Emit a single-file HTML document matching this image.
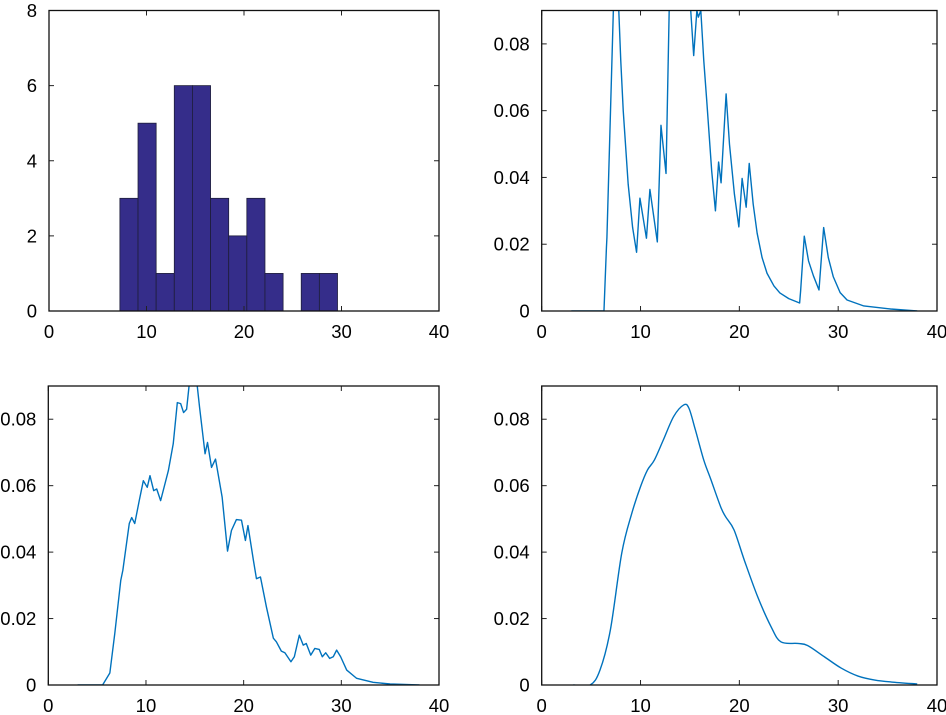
<!DOCTYPE html>
<html><head><meta charset="utf-8"><style>
html,body{margin:0;padding:0;background:#fff;}
svg{display:block;}
text{font-family:"Liberation Sans",Arial,sans-serif;font-size:18.5px;fill:#000;}
</style></head><body>
<svg id="fig" width="946" height="715" viewBox="0 0 946 715" xmlns="http://www.w3.org/2000/svg"></svg>
<script>
// Histogram data
const histEdgesStart = 7.27;
const histBinWidth = 1.86;
const histCounts = [3,5,1,6,6,3,2,3,1,0,1,1];

// Panel 2: narrow-bandwidth density
const kde1X = [3,6.3,6.55,6.6,7.25,7.5,7.8,8.0,8.25,8.75,9.2,9.6,9.94,10.6,10.95,11.7,12.07,12.58,12.9,13.5,14.5,15.08,15.38,15.7,15.85,16.1,16.4,16.7,17.2,17.58,17.9,18.15,18.66,19.0,19.5,19.95,20.28,20.69,21.0,21.4,21.8,22.3,22.8,23.5,24.1,25.0,26.1,26.2,26.57,27.0,27.5,28.06,28.53,29.0,29.5,30.2,30.9,32.6,35.3,38];
const kde1Y = [0,0,0.019,0.022,0.09,0.12,0.09,0.075,0.060,0.038,0.025,0.0176,0.0338,0.0218,0.0364,0.0207,0.0556,0.0412,0.09,0.11,0.11,0.09,0.0765,0.09,0.088,0.09,0.075,0.063,0.042,0.030,0.0446,0.0384,0.065,0.05,0.035,0.0252,0.0397,0.0311,0.0442,0.032,0.0233,0.016,0.0113,0.0075,0.0054,0.0037,0.0024,0.006,0.0224,0.015,0.0105,0.0063,0.025,0.016,0.0103,0.0055,0.0033,0.0015,0.0006,0];

// Panel 3: medium-bandwidth density
const kde2X = [3,5.56,6.3,6.81,7.42,7.63,8.29,8.54,8.85,9.31,9.73,10.13,10.41,10.79,11.1,11.5,12.29,12.79,13.21,13.55,13.85,14.16,14.41,14.8,15.25,15.49,16.05,16.3,16.71,17.12,17.8,18.35,18.75,19.26,19.78,20.18,20.44,21.0,21.31,21.72,22.33,23.04,23.35,23.86,24.22,24.84,25.19,25.7,26.1,26.41,26.87,27.28,27.74,28.05,28.4,28.81,29.17,29.52,29.93,30.55,31.57,33.25,34.99,38];
const kde2Y = [0,0,0.0036,0.0156,0.0315,0.0345,0.0486,0.0504,0.0486,0.0555,0.0615,0.0595,0.063,0.0585,0.059,0.0555,0.0645,0.0726,0.085,0.0847,0.082,0.083,0.09,0.094,0.09,0.0835,0.0696,0.073,0.0655,0.068,0.0565,0.0403,0.0465,0.0498,0.0496,0.0435,0.048,0.0375,0.032,0.0325,0.0235,0.0141,0.013,0.0102,0.0097,0.007,0.0085,0.015,0.012,0.0125,0.009,0.011,0.0107,0.0085,0.0097,0.008,0.0085,0.0105,0.0085,0.0045,0.002,0.0008,0.0003,0];

// Panel 4: wide-bandwidth density
const kde3X = [3.2,4.9,5.9,6.95,8.1,9.12,10.0,10.7,11.4,12.3,13.35,14.37,14.9,15.55,16.4,17.1,18.1,18.6,19.46,20.5,21.85,23.2,24.2,25.9,26.9,28.6,30.3,32.0,33.7,35.4,38];
const kde3Y = [0,0,0.0045,0.0166,0.0397,0.0517,0.0597,0.0647,0.0677,0.0737,0.0808,0.0843,0.0833,0.0768,0.0677,0.062,0.0537,0.0507,0.0467,0.0376,0.0266,0.0176,0.013,0.0125,0.0119,0.0085,0.0051,0.0027,0.0015,0.0009,0.0003];

const xTicks = [0,10,20,30,40];
const yTicksCount = [0,2,4,6,8];
const yTicksDens = [0,0.02,0.04,0.06,0.08];
const yTickLabelsDens = ['0','0.02','0.04','0.06','0.08'];

const NS='http://www.w3.org/2000/svg';
const svg=document.getElementById('fig');
function mk(tag,attrs,parent){const e=document.createElementNS(NS,tag);for(const k in attrs)e.setAttribute(k,attrs[k]);(parent||svg).appendChild(e);return e;}

function panel(id,L,R,T,B,ymax,yTicks,yLabels){
  const g=mk('g',{});
  
  
  const sx=v=>L+(v/40)*(R-L);
  const sy=v=>B-(v/ymax)*(B-T);
  const cp=mk('clipPath',{id:id+'-clip'},g);
  mk('rect',{x:L,y:T,width:R-L,height:B-T},cp);
  const plot=mk('g',{'clip-path':'url(#'+id+'-clip)'},g);
  
  
  xTicks.forEach(t=>{
    const x=sx(t);
    const tk=mk('line',{x1:x,x2:x,y1:B,y2:B-5,stroke:'#222','stroke-width':1},g);
    
    
    mk('line',{x1:x,x2:x,y1:T,y2:T+5,stroke:'#222','stroke-width':1},g);
    const tx=mk('text',{x:x,y:B+27,'text-anchor':'middle'},g);
    tx.textContent=String(t);
    
    
  });
  yTicks.forEach((t,i)=>{
    const y=sy(t);
    const tk=mk('line',{x1:L,x2:L+5,y1:y,y2:y,stroke:'#222','stroke-width':1},g);
    
    
    mk('line',{x1:R,x2:R-5,y1:y,y2:y,stroke:'#222','stroke-width':1},g);
    const tx=mk('text',{x:L-12,y:y+6.5,'text-anchor':'end'},g);
    tx.textContent=yLabels[i];
    
    
  });
  return {g,plot,sx,sy,L,R,T,B};
}

function frame(p,id){
  const r=mk('rect',{x:p.L,y:p.T,width:p.R-p.L,height:p.B-p.T,fill:'none',stroke:'#111','stroke-width':1.3},p.g);
  
  
}

function line(p,xs,ys,id,smooth){
  const pts=xs.map((x,i)=>[p.sx(x),p.sy(ys[i])]);
  let d='M'+pts[0][0].toFixed(2)+','+pts[0][1].toFixed(2);
  for(let i=0;i<pts.length-1;i++){
    const p1=pts[i],p2=pts[i+1];
    if(smooth){
      const p0=pts[i-1]||p1,p3=pts[i+2]||p2;
      const c1=[p1[0]+(p2[0]-p0[0])/6,p1[1]+(p2[1]-p0[1])/6];
      const c2=[p2[0]-(p3[0]-p1[0])/6,p2[1]-(p3[1]-p1[1])/6];
      d+='C'+c1[0].toFixed(2)+','+c1[1].toFixed(2)+' '+c2[0].toFixed(2)+','+c2[1].toFixed(2)+' '+p2[0].toFixed(2)+','+p2[1].toFixed(2);
    } else d+='L'+p2[0].toFixed(2)+','+p2[1].toFixed(2);
  }
  const pa=mk('path',{d:d,fill:'none',stroke:'#0072bd','stroke-width':1.4,'stroke-linejoin':'round'},p.plot);
  
  
}

const p1=panel('histogram-panel',49,439,10.5,311,8,yTicksCount,yTicksCount.map(String));
histCounts.forEach((c,i)=>{
  if(c<=0)return;
  const x0=p1.sx(histEdgesStart+i*histBinWidth), x1=p1.sx(histEdgesStart+(i+1)*histBinWidth);
  const r=mk('rect',{x:x0,y:p1.sy(c),width:x1-x0,height:p1.sy(0)-p1.sy(c),fill:'#352d8a',stroke:'#1e1e3a','stroke-width':0.8},p1.plot);
  
  
});
frame(p1,'histogram-panel');

const p2=panel('density-narrow-panel',541.7,937,10.5,311,0.09,yTicksDens,yTickLabelsDens);
line(p2,kde1X,kde1Y,'density-narrow-line',false);
frame(p2,'density-narrow-panel');

const p3=panel('density-medium-panel',48.3,439,386,685,0.09,yTicksDens,yTickLabelsDens);
line(p3,kde2X,kde2Y,'density-medium-line',false);
frame(p3,'density-medium-panel');

const p4=panel('density-wide-panel',541.7,937,386,685,0.09,yTicksDens,yTickLabelsDens);
line(p4,kde3X,kde3Y,'density-wide-line',true);
frame(p4,'density-wide-panel');
</script>
</body></html>
